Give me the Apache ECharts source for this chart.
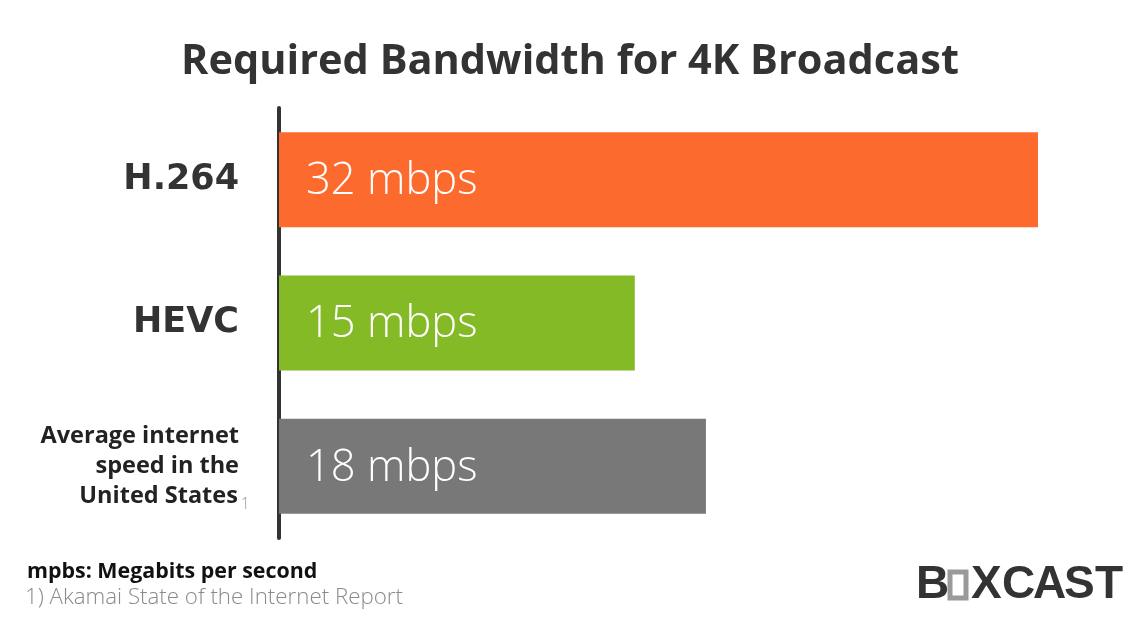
<!DOCTYPE html>
<html>
<head>
<meta charset="utf-8">
<script src="https://cdn.jsdelivr.net/npm/echarts@6/dist/echarts.min.js"></script>
<style>html,body{margin:0;padding:0;background:#fff;}#c{width:1140px;height:619px;}</style>
</head>
<body>
<div id="c"></div>
<script>
const categories = ['H.264', 'HEVC', 'Average internet speed in the United States'];
const values = [32, 15, 18];
const valueLabels = ['32 mbps', '15 mbps', '18 mbps'];
const barColors = ['#FC6A2E', '#84BA26', '#787878'];
const titleText = 'Required Bandwidth for 4K Broadcast';
const footnoteBold = 'mpbs: Megabits per second';
const footnoteSource = '1) Akamai State of the Internet Report';
const logoLetters = ['B', 'X', 'C', 'A', 'S', 'T'];

const chart = echarts.init(document.getElementById('c'));

const logoX = [930, 985, 1016, 1047, 1078, 1109];
const logoGraphics = logoLetters.map((ch, i) => ({
  type: 'text', left: logoX[i] - 14, top: 562,
  style: { text: ch, font: 'bold 46px "Liberation Sans Narrow", "Liberation Sans", sans-serif', fill: '#333333', align: 'left' }
}));

chart.setOption({
  animation: false,
  title: {
    text: titleText, left: 'center', top: 36,
    textStyle: { fontFamily: 'Open Sans', fontWeight: 'bold', fontSize: 41.5, color: '#333333' }
  },
  grid: { left: 279, right: 102, top: 108, height: 430, containLabel: false },
  xAxis: { type: 'value', min: 0, max: 32, show: false },
  yAxis: {
    type: 'category', data: categories, inverse: true,
    axisLine: { show: true, lineStyle: { color: '#333333', width: 4 } },
    axisTick: { show: false },
    axisLabel: {
      margin: 29,
      formatter: function (v) {
        if (v === categories[2]) {
          return '{s|Average internet}{pad|}\n{s|speed in the}{pad|}\n{s|United States}{sub|1}';
        }
        return '{b|' + v + '}{pad|}';
      },
      rich: {
        b: { fontFamily: 'DejaVu Sans', fontWeight: 'bold', fontSize: 35, color: '#333333' },
        s: { fontFamily: 'Open Sans', fontWeight: 'bold', fontSize: 23.5, color: '#222222', lineHeight: 30 },
        pad: { width: 11, fontSize: 22, lineHeight: 30 },
        sub: { fontFamily: 'Open Sans', fontWeight: 300, fontSize: 16, color: '#999999', padding: [16, 0, 0, 3], lineHeight: 30 }
      }
    }
  },
  series: [{
    type: 'bar', barWidth: 95,
    data: values.map((v, i) => ({ value: v, itemStyle: { color: barColors[i] } })),
    label: {
      show: true, position: 'insideLeft', offset: [22, 2],
      formatter: p => valueLabels[p.dataIndex],
      fontFamily: 'Open Sans', fontWeight: 300, fontSize: 43.5, color: '#ffffff'
    }
  }],
  graphic: [
    { type: 'text', left: 27, top: 561, style: { text: footnoteBold, font: 'bold 21.4px "Open Sans"', fill: '#111111' } },
    { type: 'text', left: 25, top: 587, style: { text: footnoteSource, font: '300 22.3px "Open Sans"', fill: '#8a8a8a' } },
    { type: 'rect', shape: { x: 950, y: 572, width: 16, height: 26 }, style: { fill: 'none', stroke: '#9a9a9a', lineWidth: 5 } }
  ].concat(logoGraphics)
});
</script>
</body>
</html>
